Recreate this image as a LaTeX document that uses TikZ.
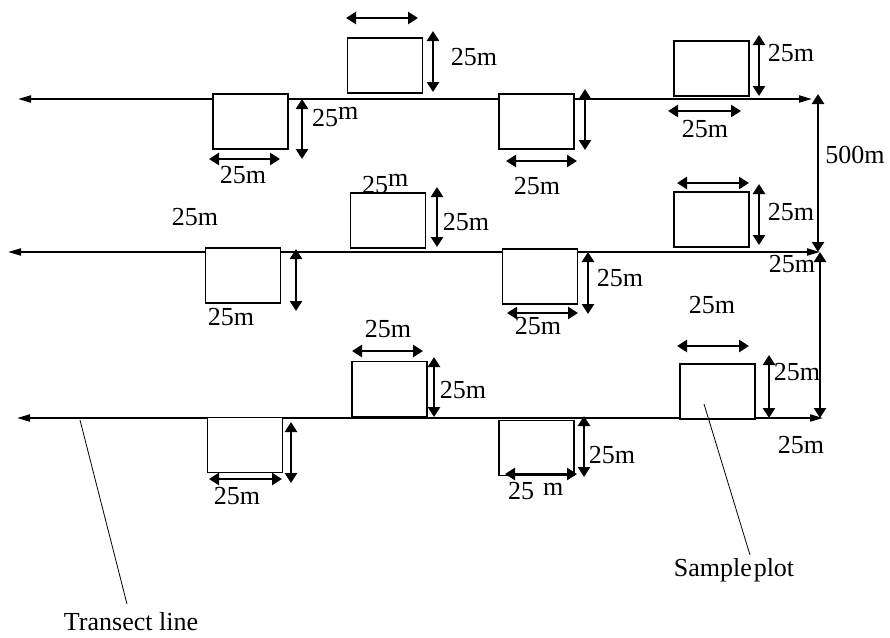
\documentclass[tikz,border=0pt]{standalone}
\usepackage{fontspec}
\setmainfont{Liberation Serif}
\usetikzlibrary{arrows.meta}
\begin{document}
\begin{tikzpicture}[x=1pt,y=-1pt,
  plotbox/.style={draw, line width=1.2pt, fill=white, minimum width=75pt, minimum height=55pt, inner sep=0pt},
  transect/.style={line width=2pt, {Triangle[length=13pt,width=7pt]}-{Triangle[length=13pt,width=7pt]}},
  dim/.style={line width=2.6pt, {Triangle[length=10pt,width=12pt]}-{Triangle[length=10pt,width=12pt]}},
  lbl/.style={inner sep=0pt, font=\fontsize{26}{29}\selectfont},
  callout/.style={inner sep=0pt, font=\fontsize{26}{29}\selectfont},
  leader/.style={line width=0.8pt}]
\useasboundingbox (0,0) rectangle (890,637);
% transect lines
\coordinate (t1l) at (18,99);  \coordinate (t1r) at (812,99);
\coordinate (t2l) at (8,252);  \coordinate (t2r) at (820,252);
\coordinate (t3l) at (17,418); \coordinate (t3r) at (823,418);
\draw[transect] (t1l) -- (t1r);
\draw[transect] (t2l) -- (t2r);
\draw[transect] (t3l) -- (t3r);
% plots
\node[plotbox] (a1) at (250.5,121.5) {};
\node[plotbox] (a2) at (385,65.5) {};
\node[plotbox] (a3) at (536.5,121.5) {};
\node[plotbox] (a4) at (711.5,68.5) {};
\node[plotbox] (b1) at (243,275.5) {};
\node[plotbox] (b2) at (388,220.5) {};
\node[plotbox] (b3) at (540,276.5) {};
\node[plotbox] (b4) at (711.5,219.5) {};
\node[plotbox] (c1) at (245,445) {};
\node[plotbox] (c2) at (389.5,389) {};
\node[plotbox] (c3) at (536.5,448) {};
\node[plotbox] (c4) at (717.5,391.5) {};
% dimension arrows - top row
\draw[dim] (346,18) -- (418,18);
\draw[dim] (433,31) -- (433,92);
\draw[dim] (302,99) -- (302,159);
\draw[dim] (209,159) -- (280,159);
\draw[dim] (585,89) -- (585,150);
\draw[dim] (506,161) -- (577,161);
\draw[dim] (759,35) -- (759,96);
\draw[dim] (668,111) -- (741,111);
\draw[dim] (818,94) -- (818,252);
% middle row
\draw[dim] (296,249) -- (296,311);
\draw[dim] (437,187) -- (437,247);
\draw[dim] (588,252) -- (588,314);
\draw[dim] (507,313) -- (578,313);
\draw[dim] (677,183) -- (749,183);
\draw[dim] (759,184) -- (759,245);
\draw[dim] (820,252) -- (820,418);
% bottom row
\draw[dim] (291,422) -- (291,483);
\draw[dim] (209,479) -- (282,479);
\draw[dim] (352,351) -- (423,351);
\draw[dim] (434,357) -- (434,417);
\draw[dim] (584,416) -- (584,477);
\draw[dim] (505,474) -- (577,474);
\draw[dim] (677,346) -- (749,346);
\draw[dim] (769,355) -- (769,418);
% labels top
\node[lbl, anchor=west] (l1) at (312,117) {25\raisebox{7pt}{m}};
\node[lbl] (l2) at (243,175) {25m};
\node[lbl] (l3) at (474,57) {25m};
\node[lbl] (l4) at (537,186) {25m};
\node[lbl] (l5) at (791,53) {25m};
\node[lbl] (l6) at (705,129) {25m};
\node[lbl] (l7) at (855,155) {500m};
% labels middle
\node[lbl] (m1) at (195,217) {25m};
\node[lbl] (m2) at (231,317) {25m};
\node[lbl, anchor=west] (m3) at (362,184) {25\raisebox{7pt}{m}};
\node[lbl] (m4) at (466,222) {25m};
\node[lbl] (m5) at (620,278) {25m};
\node[lbl] (m6) at (538,326) {25m};
\node[lbl] (m7) at (791,212) {25m};
\node[lbl] (m8) at (792,264) {25m};
\node[lbl] (m9) at (712,305) {25m};
% labels bottom
\node[lbl] (n1) at (388,329) {25m};
\node[lbl] (n2) at (463,390) {25m};
\node[lbl] (n3) at (237,496) {25m};
\node[lbl] (n4) at (612,455) {25m};
\node[lbl, anchor=west] (n5) at (508,491) {25\hspace{9pt}\raisebox{4pt}{m}};
\node[lbl] (n6) at (797,372) {25m};
\node[lbl] (n7) at (801,445) {25m};
% callouts
\node[callout] (tl) at (131,622) {Transect line};
\node[callout] (sp) at (734,570) {Sample\hspace{2pt}plot};
\coordinate (tlstart) at (80,420);
\coordinate (tlend) at (127,604);
\coordinate (spstart) at (704,404);
\coordinate (spend) at (750,555);
\draw[leader] (tlstart) -- (tlend);
\draw[leader] (spstart) -- (spend);
\end{tikzpicture}
\end{document}
